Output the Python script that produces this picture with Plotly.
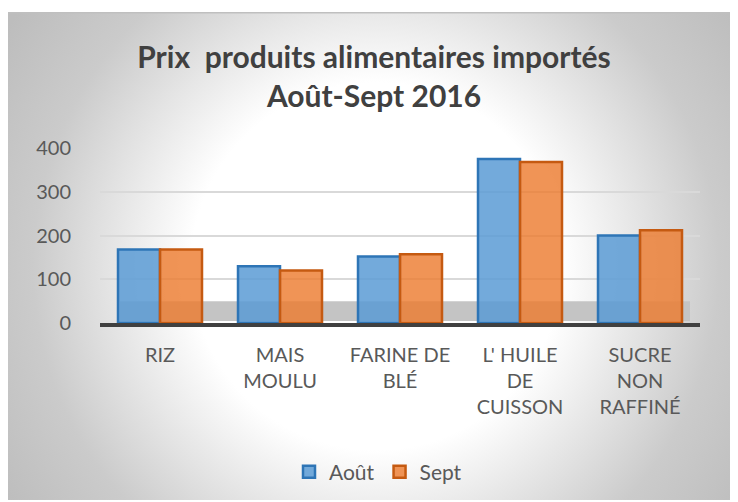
import base64
import plotly.graph_objects as go

# ---- data ----
categories = ["RIZ", "MAIS MOULU", "FARINE DE BLÉ", "L' HUILE DE CUISSON", "SUCRE NON RAFFINÉ"]
tick_labels = ["RIZ", "MAIS<br>MOULU", "FARINE DE<br>BLÉ", "L' HUILE<br>DE<br>CUISSON", "SUCRE<br>NON<br>RAFFINÉ"]
aout = [168, 130, 152, 375, 200]
sept = [168, 120, 157, 368, 212]
y_ticks = [0, 100, 200, 300, 400]

# page offset (body margin) so the figure fits the 738x502 window
OFF = 8
W, H = 738 - OFF, 502 - OFF
L, T = 100 - OFF, 148 - OFF
pw, ph = 600, 176
R = W - L - pw
B = H - T - ph


def px_x(x):
    return (x - OFF - L) / pw


def px_y(y):
    return (H - B - (y - OFF)) / ph


svg = '''<svg xmlns="http://www.w3.org/2000/svg" width="732" height="490" viewBox="0 0 732 490" preserveAspectRatio="none">
<defs><radialGradient id="g" gradientUnits="userSpaceOnUse" cx="370" cy="255" r="440">
<stop offset="0" stop-color="#ffffff"/><stop offset="0.42" stop-color="#ffffff"/>
<stop offset="0.78" stop-color="#cbcbcb"/><stop offset="1" stop-color="#bdbdbd"/></radialGradient></defs>
<rect x="0" y="0" width="732" height="490" fill="url(#g)"/></svg>'''
src = "data:image/svg+xml;base64," + base64.b64encode(svg.encode()).decode()

fig = go.Figure()
fig.add_trace(go.Bar(
    name="Août", x=categories, y=aout,
    marker=dict(color="rgba(91,155,213,0.85)", line=dict(color="#2E75B6", width=2.5)),
))
fig.add_trace(go.Bar(
    name="Sept", x=categories, y=sept,
    marker=dict(color="rgba(237,125,49,0.82)", line=dict(color="#C55A11", width=2.5)),
))

font_family = "Lato, 'Open Sans', sans-serif"

fig.update_layout(
    width=W, height=H,
    margin=dict(l=L, r=R, t=T, b=B),
    paper_bgcolor="white",
    plot_bgcolor="rgba(0,0,0,0)",
    barmode="group", bargap=0.3, bargroupgap=0.0,
    title=dict(
        text="<b>Prix  produits alimentaires importés<br>Août-Sept 2016</b>",
        x=(374 - OFF) / W, xref="container", xanchor="center",
        y=1 - 60 / H, yref="container", yanchor="top",
        font=dict(family=font_family, size=30, color="#404040"),
    ),
    font=dict(family=font_family, color="#595959"),
    xaxis=dict(
        tickmode="array", tickvals=categories, ticktext=tick_labels,
        tickfont=dict(size=20, color="#595959"),
        showline=True, linecolor="#404040", linewidth=4,
        ticks="", ticklabelstandoff=11, showgrid=False,
    ),
    yaxis=dict(
        range=[0, 400], tickvals=y_ticks,
        tickfont=dict(size=20, color="#595959"),
        showgrid=True, gridcolor="#d9d9d9", gridwidth=2,
        zeroline=False, showline=False, ticks="", ticklabelstandoff=28,
    ),
    legend=dict(
        orientation="h", x=(378 - OFF - L) / pw, xanchor="center",
        y=px_y(472), yanchor="middle",
        font=dict(size=21, color="#595959"),
        bgcolor="rgba(0,0,0,0)", itemwidth=30, traceorder="normal",
    ),
    showlegend=True,
    images=[dict(
        source=src, xref="paper", yref="paper",
        x=px_x(6), y=px_y(12), sizex=732 / pw, sizey=490 / ph,
        xanchor="left", yanchor="top", sizing="stretch", layer="below",
    )],
    shapes=[
        dict(type="rect", xref="paper", yref="paper",
             x0=px_x(6), x1=px_x(760), y0=px_y(12), y1=px_y(520),
             line=dict(color="#bfbfbf", width=1.5), fillcolor="rgba(0,0,0,0)", layer="below"),
        dict(type="rect", xref="paper", yref="paper",
             x0=px_x(120), x1=px_x(690), y0=px_y(322), y1=px_y(302),
             line=dict(width=0), fillcolor="#c4c4c4", layer="below"),
    ],
)

fig.write_html("out.html")
